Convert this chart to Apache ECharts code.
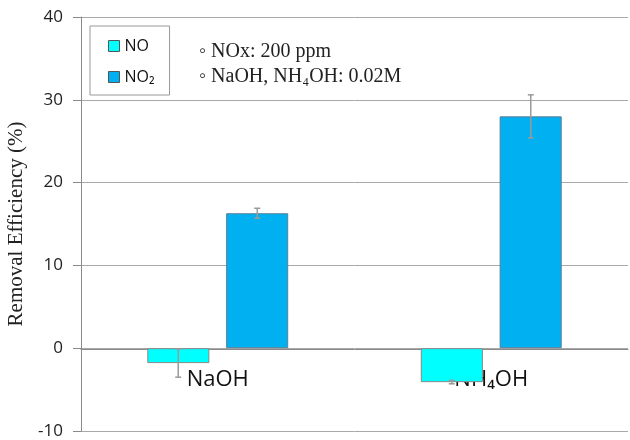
<!DOCTYPE html>
<html>
<head>
<meta charset="utf-8">
<script src="https://cdn.jsdelivr.net/npm/echarts@6/dist/echarts.min.js"></script>
<style>html,body{margin:0;padding:0;background:#fff}#c{width:630px;height:440px}</style>
</head>
<body>
<div id="c"></div>
<script>
var categories = ['NaOH', 'NH\u2084OH'];
var seriesNames = ['NO', 'NO\u2082'];
var noValues = [-1.8, -4.1];
var no2Values = [16.3, 28.0];
var noErrors = [1.7, 0.2];
var no2Errors = [0.6, 2.6];
var yTicks = [-10, 0, 10, 20, 30, 40];
var notes = ['\u25E6 NOx: 200 ppm', '\u25E6 NaOH, NH\u2084OH: 0.02M'];

var BAR_FRAC = 0.227, OFFSET_FRAC = 0.1445;
function errSeries(values, errs, sign) {
  return {
    type: 'custom',
    z: 5,
    silent: true,
    data: values.map(function (v, i) { return [i, v - errs[i], v + errs[i]]; }),
    renderItem: function (params, api) {
      var idx = api.value(0);
      var band = api.size([1, 0])[0];
      var lo = api.coord([idx, api.value(1)]);
      var hi = api.coord([idx, api.value(2)]);
      var x = lo[0] + sign * band * OFFSET_FRAC;
      var cap = 3;
      var st = { stroke: '#9a9a9a', lineWidth: 1.5 };
      return {
        type: 'group',
        children: [
          { type: 'line', shape: { x1: x, y1: lo[1], x2: x, y2: hi[1] }, style: st },
          { type: 'line', shape: { x1: x - cap, y1: lo[1], x2: x + cap, y2: lo[1] }, style: st },
          { type: 'line', shape: { x1: x - cap, y1: hi[1], x2: x + cap, y2: hi[1] }, style: st }
        ]
      };
    }
  };
}

var chart = echarts.init(document.getElementById('c'));
chart.setOption({
  animation: false,
  grid: { left: 81, right: 2, top: 17, bottom: 9, containLabel: false, outerBoundsMode: 'none' },
  legend: {
    orient: 'vertical',
    left: 90, top: 26,
    data: seriesNames,
    icon: 'rect',
    itemWidth: 11, itemHeight: 11,
    itemGap: 15,
    borderColor: '#999', borderWidth: 1,
    padding: [12, 15, 10, 18],
    itemStyle: { borderColor: '#555', borderWidth: 1 },
    textStyle: { fontFamily: 'Open Sans', fontSize: 16, color: '#111' }
  },
  xAxis: {
    type: 'category',
    data: categories,
    offset: -82,
    axisLine: { onZero: false, lineStyle: { color: '#8a8a8a' } },
    axisTick: { show: false },
    axisLabel: { fontFamily: 'Open Sans', fontSize: 22, color: '#111', margin: 20 }
  },
  yAxis: {
    type: 'value',
    min: -10, max: 40, interval: 10,
    name: 'Removal Efficiency (%)',
    nameLocation: 'middle',
    nameGap: 50,
    nameTextStyle: { fontFamily: 'Liberation Serif', fontSize: 21, color: '#222' },
    axisLine: { show: true, lineStyle: { color: '#8a8a8a' } },
    axisTick: { show: true, length: 8, lineStyle: { color: '#8a8a8a' } },
    axisLabel: {
      fontFamily: 'Open Sans', fontSize: 17, color: '#222', margin: 18,
      formatter: function (v) { return yTicks.indexOf(v) >= 0 ? String(v) : ''; }
    },
    splitLine: { lineStyle: { color: '#a8a8a8', width: 1 } }
  },
  series: [
    {
      name: seriesNames[0], type: 'bar', data: noValues,
      barWidth: (BAR_FRAC * 100) + '%', barGap: '27%',
      itemStyle: { color: '#00FFFF', borderColor: '#888', borderWidth: 1 }
    },
    {
      name: seriesNames[1], type: 'bar', data: no2Values,
      barWidth: (BAR_FRAC * 100) + '%', barGap: '27%',
      itemStyle: { color: '#00B0F0', borderColor: '#5a7f99', borderWidth: 1 }
    },
    errSeries(noValues, noErrors, -1),
    errSeries(no2Values, no2Errors, 1)
  ],
  graphic: [
    { type: 'text', left: 199, top: 42, style: { text: notes[0], font: '20px "Liberation Serif"', fill: '#222' } },
    { type: 'text', left: 199, top: 67, style: { text: notes[1], font: '20px "Liberation Serif"', fill: '#222' } }
  ]
});
</script>
</body>
</html>
